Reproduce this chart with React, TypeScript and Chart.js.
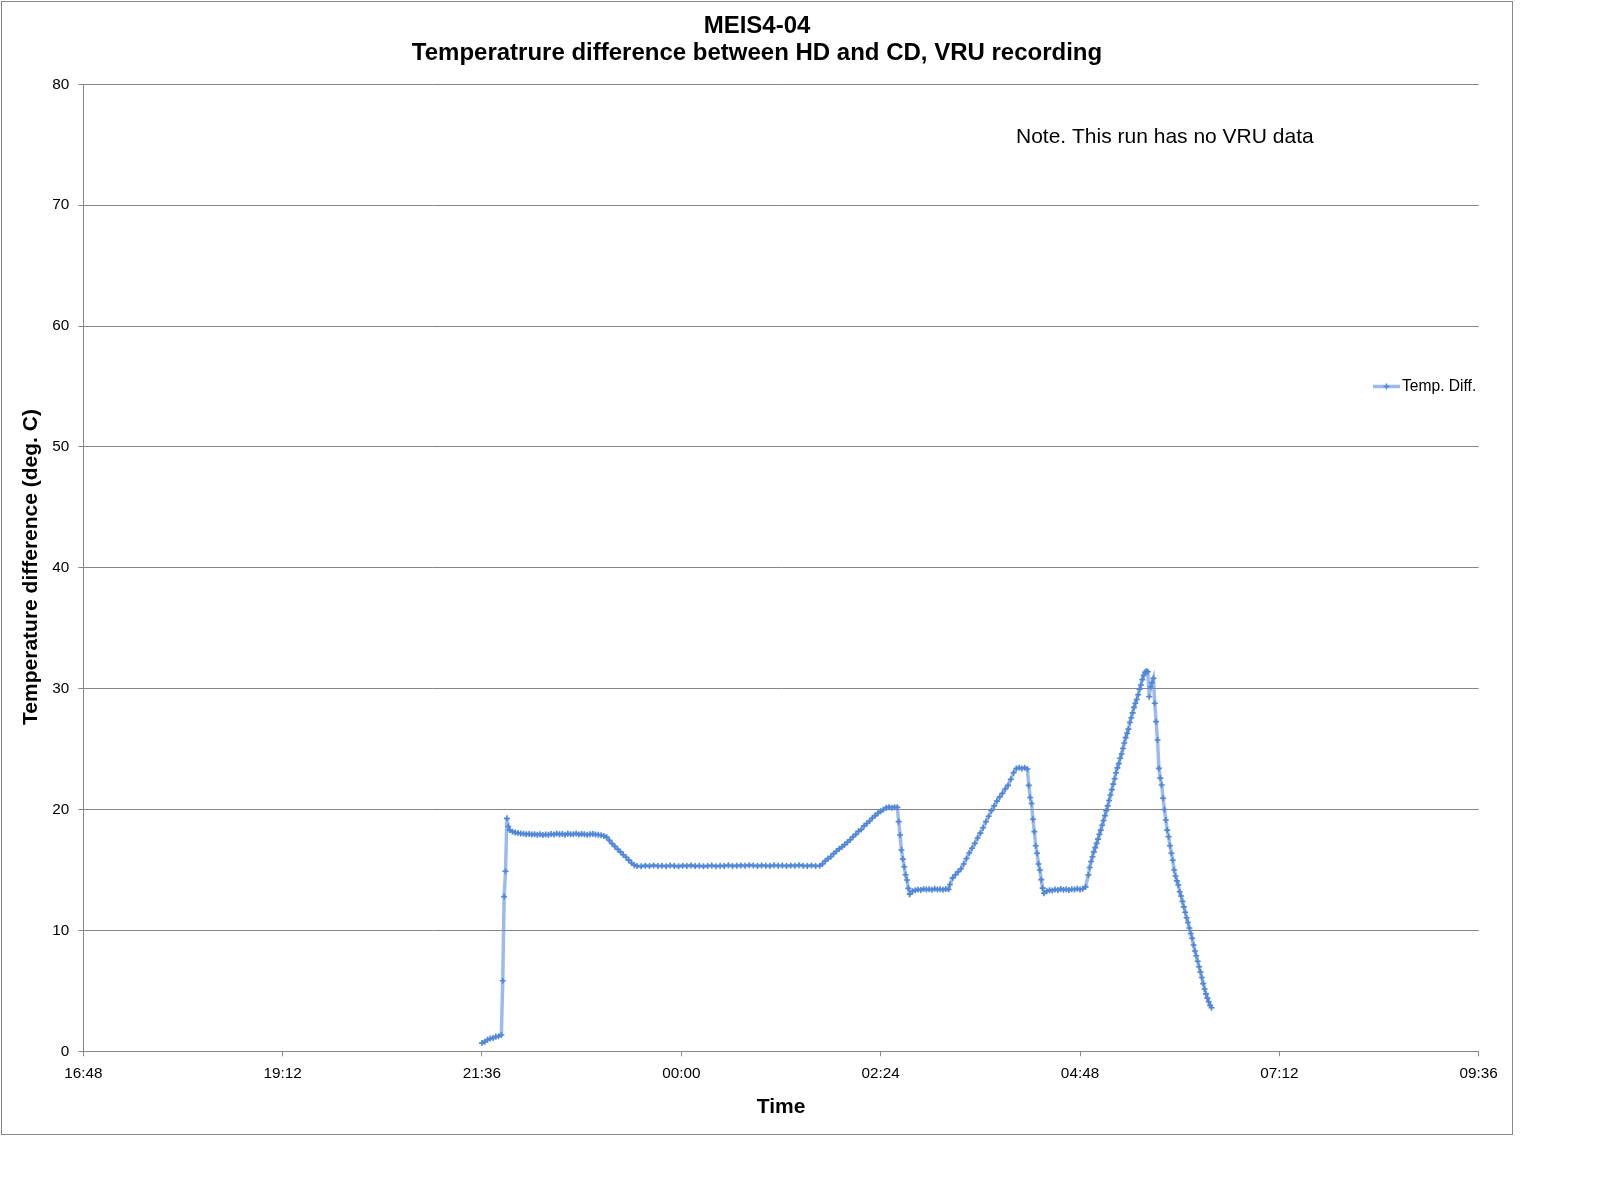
import { useEffect, useRef } from 'react'
import { Chart, registerables } from 'chart.js'

Chart.register(...registerables)

const chartTitle = ['MEIS4-04', 'Temperatrure difference between HD and CD, VRU recording']
const xAxisTitle = 'Time'
const yAxisTitle = 'Temperature difference (deg. C)'
const seriesLabel = 'Temp. Diff.'
const noteText = 'Note. This run has no VRU data'

const xTickLabels = ['16:48', '19:12', '21:36', '00:00', '02:24', '04:48', '07:12', '09:36']
const yTickStep = 10
const yMin = 0
const yMax = 80

// logger clock (evening of day 1 into morning of day 2)
const sampleTimes = [
  // start-up and jump
  '21:36', '21:38', '21:40', '21:42', '21:44', '21:46', '21:48', '21:50', '21:51', '21:52',
  '21:53', '21:54', '21:55', '21:56', '21:58',
  // plateau ~18
  '22:00', '22:02', '22:04', '22:06', '22:08', '22:10', '22:12', '22:14', '22:16', '22:18',
  '22:20', '22:22', '22:24', '22:26', '22:28', '22:30', '22:32', '22:34', '22:36', '22:38',
  '22:40', '22:42', '22:44', '22:46', '22:48', '22:50', '22:52', '22:54', '22:56', '22:58',
  '23:00', '23:02', '23:04',
  // decline
  '23:06', '23:08', '23:10', '23:12', '23:14', '23:16', '23:18', '23:20', '23:22', '23:24',
  '23:26', '23:28',
  // plateau ~15.3
  '23:31', '23:34', '23:37', '23:40', '23:43', '23:46', '23:49', '23:52', '23:55', '23:58',
  '00:01', '00:04', '00:07', '00:10', '00:13', '00:16', '00:19', '00:22', '00:25', '00:28',
  '00:31', '00:34', '00:37', '00:40', '00:43', '00:46', '00:49', '00:52', '00:55', '00:58',
  '01:01', '01:04', '01:07', '01:10', '01:13', '01:16', '01:19', '01:22', '01:25', '01:28',
  '01:31', '01:34', '01:37', '01:40',
  // first ramp and drop
  '01:42', '01:44', '01:46', '01:48', '01:50', '01:52', '01:54', '01:56', '01:58', '02:00',
  '02:02', '02:04', '02:06', '02:08', '02:10', '02:12', '02:14', '02:16', '02:18', '02:20',
  '02:22', '02:24', '02:26', '02:28', '02:30', '02:32', '02:34', '02:36', '02:37', '02:38',
  '02:39', '02:40', '02:41', '02:42', '02:43', '02:44', '02:45',
  // plateau ~13.4
  '02:47', '02:49', '02:51', '02:53', '02:55', '02:57', '02:59', '03:01', '03:03', '03:05',
  '03:07', '03:09', '03:11', '03:13',
  // second ramp and drop
  '03:14', '03:16', '03:18', '03:20', '03:22', '03:24', '03:26', '03:28', '03:30', '03:32',
  '03:34', '03:36', '03:38', '03:40', '03:42', '03:44', '03:46', '03:48', '03:50', '03:52',
  '03:54', '03:56', '03:58', '04:00', '04:02', '04:04', '04:06', '04:08', '04:10', '04:11',
  '04:12', '04:13', '04:14', '04:15', '04:16', '04:17', '04:18', '04:19', '04:20', '04:21',
  '04:22',
  // plateau ~13.4
  '04:24', '04:26', '04:28', '04:30', '04:32', '04:34', '04:36', '04:38', '04:40', '04:42',
  '04:44', '04:46', '04:48', '04:50', '04:52',
  // third ramp, peak and final cool-down
  '04:54', '04:55', '04:56', '04:57', '04:58', '04:59', '05:00', '05:01', '05:02', '05:03',
  '05:04', '05:05', '05:06', '05:07', '05:08', '05:09', '05:10', '05:11', '05:12', '05:13',
  '05:14', '05:15', '05:16', '05:17', '05:18', '05:19', '05:20', '05:21', '05:22', '05:23',
  '05:24', '05:25', '05:26', '05:27', '05:28', '05:29', '05:30', '05:31', '05:32', '05:33',
  '05:34', '05:35', '05:36', '05:37', '05:38', '05:39', '05:40', '05:41', '05:42', '05:43',
  '05:44', '05:45', '05:46', '05:47', '05:48', '05:49', '05:50', '05:51', '05:52', '05:53',
  '05:54', '05:55', '05:56', '05:57', '05:58', '05:59', '06:00', '06:01', '06:02', '06:03',
  '06:04', '06:05', '06:06', '06:07', '06:08', '06:09', '06:10', '06:11', '06:12', '06:13',
  '06:14', '06:15', '06:16', '06:17', '06:18', '06:19', '06:20', '06:21', '06:22', '06:23',
]

const tempDiff = [
  // start-up and jump
  0.68, 0.8, 0.95, 1.05, 1.1, 1.2, 1.25, 1.35, 5.84, 12.8,
  14.9, 19.27, 18.6, 18.3, 18.17,
  // plateau ~18
  18.1, 18.05, 18.02, 18.0, 17.96, 17.98, 17.93, 17.95, 17.92, 17.96,
  17.9, 17.94, 17.92, 17.98, 17.93, 18.02, 17.95, 17.97, 17.92, 18.0,
  17.95, 17.96, 18.01, 17.94, 17.97, 17.95, 17.91, 17.96, 17.98, 17.94,
  17.92, 17.88, 17.82,
  // decline
  17.72, 17.45, 17.18, 16.95, 16.72, 16.5, 16.26, 16.05, 15.82, 15.58,
  15.4, 15.33,
  // plateau ~15.3
  15.3, 15.36, 15.32, 15.38, 15.33, 15.35, 15.31, 15.37, 15.34, 15.3,
  15.36, 15.33, 15.38, 15.32, 15.35, 15.3, 15.34, 15.37, 15.31, 15.35,
  15.33, 15.39, 15.34, 15.36, 15.38, 15.35, 15.4, 15.37, 15.33, 15.38,
  15.36, 15.34, 15.39, 15.35, 15.37, 15.33, 15.38, 15.35, 15.4, 15.36,
  15.34, 15.38, 15.33, 15.36,
  // first ramp and drop
  15.5, 15.75, 15.95, 16.1, 16.35, 16.55, 16.75, 16.9, 17.1, 17.3,
  17.5, 17.75, 17.95, 18.2, 18.35, 18.65, 18.85, 19.05, 19.3, 19.5,
  19.7, 19.85, 20.0, 20.15, 20.2, 20.15, 20.2, 20.18, 19.0, 17.9,
  16.65, 15.9, 15.27, 14.6, 14.17, 13.48, 13.0,
  // plateau ~13.4
  13.25, 13.32, 13.38, 13.35, 13.42, 13.38, 13.4, 13.36, 13.44, 13.39,
  13.41, 13.37, 13.43, 13.4,
  // second ramp and drop
  13.8, 14.35, 14.6, 14.85, 15.1, 15.5, 15.95, 16.4, 16.8, 17.2,
  17.65, 18.05, 18.5, 19.0, 19.45, 19.9, 20.3, 20.7, 21.05, 21.35,
  21.7, 22.0, 22.5, 23.05, 23.4, 23.45, 23.4, 23.45, 23.35, 22.0,
  21.0, 20.5, 19.2, 18.17, 17.0, 16.38, 15.5, 15.0, 14.2, 13.5,
  13.07,
  // plateau ~13.4
  13.25, 13.33, 13.3, 13.38, 13.35, 13.42, 13.36, 13.4, 13.34, 13.41,
  13.38, 13.44, 13.39, 13.45, 13.6,
  // third ramp, peak and final cool-down
  14.58, 15.2, 15.7, 16.1, 16.5, 16.85, 17.2, 17.55, 17.95, 18.3,
  18.7, 19.1, 19.5, 19.9, 20.3, 20.75, 21.2, 21.65, 22.1, 22.55,
  23.05, 23.45, 23.8, 24.25, 24.6, 25.05, 25.5, 25.95, 26.3, 26.65,
  27.2, 27.6, 28.0, 28.45, 28.8, 29.1, 29.5, 29.95, 30.3, 30.75,
  31.1, 31.35, 31.45, 31.4, 29.33, 30.16, 30.5, 30.85, 28.79, 27.27,
  25.75, 23.41, 22.6, 22.03, 20.93, 20.0, 19.13, 18.3, 17.75, 17.0,
  16.38, 15.8, 15.0, 14.5, 14.1, 13.76, 13.2, 12.85, 12.4, 11.95,
  11.5, 11.05, 10.65, 10.2, 9.75, 9.35, 8.8, 8.3, 7.9, 7.45,
  7.0, 6.55, 6.1, 5.6, 5.15, 4.75, 4.4, 4.1, 3.8, 3.6,
]

const FONT = '"Liberation Sans", Arial, sans-serif'
const gridColor = '#868686'
const lineColor = 'rgba(96, 146, 222, 0.62)'
const markerColor = '#4f86d8'

// hours before noon belong to the next day
function toMinutes(hhmm: string) {
  const [h, m] = hhmm.split(':').map(Number)
  return h * 60 + m + (h < 12 ? 1440 : 0)
}

function formatClock(value: number) {
  const mins = ((Math.round(value) % 1440) + 1440) % 1440
  const h = Math.floor(mins / 60)
  const m = mins % 60
  return String(h).padStart(2, '0') + ':' + String(m).padStart(2, '0')
}

const xTickMinutes = xTickLabels.map(toMinutes)

const decorations = {
  id: 'decorations',
  afterDraw(chart: any) {
    const { ctx } = chart
    ctx.save()
    // outer frame
    ctx.strokeStyle = gridColor
    ctx.lineWidth = 1
    ctx.strokeRect(1.5, 1.5, 1511, 1133)

    ctx.fillStyle = '#000'
    ctx.textAlign = 'center'
    ctx.textBaseline = 'middle'
    ctx.font = `bold 24px ${FONT}`
    ctx.fillText(chartTitle[0], 757, 26)
    ctx.fillText(chartTitle[1], 757, 53)

    ctx.font = `bold 21px ${FONT}`
    ctx.fillText(xAxisTitle, 781, 1107)
    ctx.save()
    ctx.translate(31, 567)
    ctx.rotate(-Math.PI / 2)
    ctx.fillText(yAxisTitle, 0, 0)
    ctx.restore()

    ctx.textAlign = 'left'
    ctx.font = `21px ${FONT}`
    ctx.fillText(noteText, 1016, 137)

    // legend
    const ly = 386.5
    ctx.strokeStyle = lineColor
    ctx.lineWidth = 3.5
    ctx.beginPath()
    ctx.moveTo(1373, ly)
    ctx.lineTo(1400, ly)
    ctx.stroke()
    ctx.strokeStyle = markerColor
    ctx.lineWidth = 1.5
    ctx.beginPath()
    ctx.moveTo(1383.5, ly)
    ctx.lineTo(1389.5, ly)
    ctx.moveTo(1386.5, ly - 3)
    ctx.lineTo(1386.5, ly + 3)
    ctx.stroke()
    ctx.fillStyle = '#000'
    ctx.font = `15.6px ${FONT}`
    ctx.fillText(seriesLabel, 1402, ly)
    ctx.restore()
  },
}

export default function App() {
  const chartRef = useRef<HTMLCanvasElement | null>(null)
  const chartInstance = useRef<Chart | null>(null)

  useEffect(() => {
    if (!chartRef.current) return
    if (chartInstance.current) chartInstance.current.destroy()

    const points = sampleTimes.map((t, i) => ({ x: toMinutes(t), y: tempDiff[i] }))

    chartInstance.current = new Chart(chartRef.current, {
      type: 'line',
      data: {
        datasets: [
          {
            label: seriesLabel,
            data: points,
            borderColor: lineColor,
            borderWidth: 3.5,
            tension: 0,
            pointStyle: 'cross',
            pointRadius: 3,
            pointBorderWidth: 1.6,
            pointBorderColor: markerColor,
            pointBackgroundColor: markerColor,
            pointHoverRadius: 3,
          },
        ],
      },
      options: {
        responsive: false,
        animation: false,
        layout: { padding: { left: 33.3, right: 119.3, top: 84.3, bottom: 100.7 } },
        plugins: {
          legend: { display: false },
          title: { display: false },
          tooltip: { enabled: false },
        },
        scales: {
          x: {
            type: 'linear',
            min: xTickMinutes[0],
            max: xTickMinutes[xTickMinutes.length - 1],
            afterBuildTicks: (scale: any) => {
              scale.ticks = xTickMinutes.map((value) => ({ value }))
            },
            afterFit: (scale: any) => {
              scale.height = 50
            },
            grid: { drawOnChartArea: false, drawTicks: true, tickLength: 5, color: gridColor },
            border: { display: true, color: gridColor },
            ticks: {
              color: '#000',
              font: { family: FONT, size: 15.3 },
              padding: 8,
              maxRotation: 0,
              autoSkip: false,
              callback: (v: any) => formatClock(Number(v)),
            },
          },
          y: {
            min: yMin,
            max: yMax,
            afterFit: (scale: any) => {
              scale.width = 50
            },
            grid: { color: gridColor, drawTicks: true, tickLength: 5 },
            border: { display: true, color: gridColor },
            ticks: {
              stepSize: yTickStep,
              color: '#000',
              font: { family: FONT, size: 15.3 },
              padding: 9,
            },
          },
        },
      },
      plugins: [decorations],
    })

    return () => {
      if (chartInstance.current) {
        chartInstance.current.destroy()
        chartInstance.current = null
      }
    }
  }, [])

  return (
    <div style={{ position: 'absolute', left: 0, top: 0, width: 1598, height: 1202, background: '#fff' }}>
      <canvas ref={chartRef} width={1598} height={1202} />
    </div>
  )
}
